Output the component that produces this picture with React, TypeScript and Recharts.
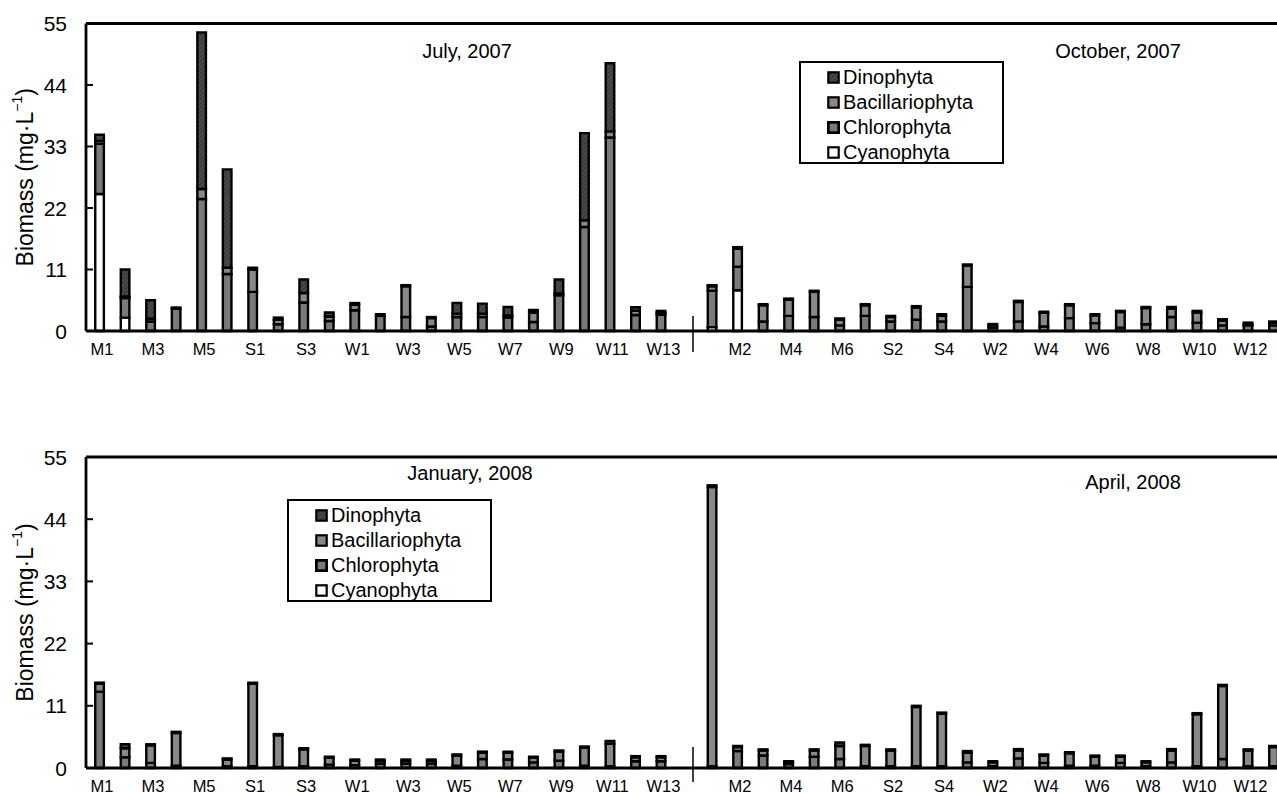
import { Bar, BarChart, Legend, ReferenceLine, XAxis, YAxis } from 'recharts'

const FONT = '"Liberation Sans", Arial, sans-serif'

const stations = ['M1', 'M2', 'M3', 'M4', 'M5', 'M6', 'S1', 'S2', 'S3', 'S4', 'W1', 'W2', 'W3', 'W4', 'W5', 'W6', 'W7', 'W8', 'W9', 'W10', 'W11', 'W12', 'W13']
const yTicks = [0, 11, 22, 33, 44, 55]
const divisions = ['Dinophyta', 'Bacillariophyta', 'Chlorophyta', 'Cyanophyta']

// July, 2007
const julCyano = [24.5, 2.4, 0, 0, 0, 0, 0, 0, 0, 0, 0, 0, 0, 0, 0, 0, 0, 0, 0, 0, 0, 0, 0]
const julChloro = [9.0, 3.5, 1.7, 4.0, 23.6, 10.2, 7.0, 1.2, 5.1, 1.8, 3.7, 2.7, 2.5, 0.8, 2.5, 2.5, 2.4, 1.6, 6.4, 18.6, 34.6, 2.85, 2.9]
const julBacil = [0.5, 0.3, 0.5, 0, 1.8, 1.1, 4.0, 0.8, 1.7, 0.8, 1.0, 0, 5.5, 1.5, 0.6, 0.6, 0.4, 1.7, 0.3, 1.2, 1.1, 0.8, 0.4]
const julDino = [1.1, 4.8, 3.3, 0.2, 28.0, 17.6, 0.3, 0.4, 2.4, 0.7, 0.3, 0.3, 0.2, 0.2, 1.9, 1.8, 1.5, 0.45, 2.5, 15.6, 12.2, 0.6, 0.3]

// October, 2007
const octCyano = [0.7, 7.3, 0, 0, 0, 0, 0, 0, 0, 0, 0, 0, 0, 0, 0, 0, 0, 0, 0, 0, 0, 0, 0]
const octChloro = [6.5, 4.2, 1.7, 2.7, 2.5, 1.0, 2.7, 1.7, 2.0, 1.7, 7.9, 0.6, 1.7, 0.8, 2.3, 1.4, 0.6, 1.2, 2.5, 1.5, 1.0, 1.0, 1.0]
const octBacil = [0.8, 3.2, 2.9, 2.9, 4.5, 1.0, 1.9, 0.8, 2.2, 1.0, 3.8, 0.45, 3.5, 2.45, 2.3, 1.4, 2.8, 2.9, 1.5, 1.8, 0.85, 0.2, 0.5]
const octDino = [0.2, 0.3, 0.2, 0.2, 0.2, 0.25, 0.2, 0.2, 0.25, 0.3, 0.2, 0.2, 0.2, 0.2, 0.2, 0.2, 0.2, 0.2, 0.3, 0.3, 0.25, 0.3, 0.2]

// January, 2008
const janCyano = [0, 0, 0, 0, 0, 0, 0, 0, 0, 0, 0, 0, 0, 0, 0, 0, 0, 0, 0, 0, 0, 0, 0]
const janChloro = [13.5, 1.9, 0.9, 0.4, 0, 0.3, 0.3, 0.2, 0.3, 0.6, 0.5, 0.8, 0.8, 0.8, 0.4, 1.6, 1.5, 1.0, 1.3, 0.4, 0.3, 1.2, 1.2]
const janBacil = [1.4, 1.6, 3.1, 5.8, 0, 1.2, 14.6, 5.6, 3.0, 1.2, 0.8, 0.5, 0.5, 0.5, 1.8, 1.1, 1.2, 0.8, 1.6, 3.2, 4.0, 0.7, 0.7]
const janDino = [0.2, 0.7, 0.2, 0.2, 0, 0.2, 0.2, 0.2, 0.2, 0.2, 0.2, 0.2, 0.2, 0.2, 0.2, 0.2, 0.2, 0.2, 0.2, 0.2, 0.5, 0.2, 0.2]

// April, 2008
const aprCyano = [0, 0, 0, 0, 0, 0, 0, 0, 0, 0, 0, 0, 0, 0, 0, 0, 0, 0, 0, 0, 0, 0, 0]
const aprChloro = [0.3, 3.0, 2.2, 0.7, 2.0, 1.6, 0.3, 0.3, 0.3, 0.3, 1.0, 0.3, 1.7, 0.9, 0.4, 0.4, 0.9, 0.3, 1.0, 0.3, 1.6, 0.3, 0.3]
const aprBacil = [49.4, 0.7, 0.9, 0.3, 1.1, 2.3, 3.6, 2.8, 10.5, 9.3, 1.7, 0.7, 1.4, 1.3, 2.2, 1.6, 1.1, 0.7, 2.1, 9.2, 12.9, 2.8, 3.4]
const aprDino = [0.3, 0.2, 0.2, 0.2, 0.2, 0.6, 0.2, 0.2, 0.2, 0.2, 0.3, 0.2, 0.25, 0.2, 0.2, 0.2, 0.2, 0.2, 0.25, 0.2, 0.2, 0.2, 0.2]

type Row = { label: string; cyano: number; chloro: number; bacil: number; dino: number }

// first period labels the odd stations, second one the even ones, a '|' slot in between
function buildRows(a: number[][], b: number[][]): Row[] {
  const rows: Row[] = stations.map((s, i) => ({
    label: i % 2 === 0 ? s : '',
    cyano: a[0][i],
    chloro: a[1][i],
    bacil: a[2][i],
    dino: a[3][i],
  }))
  rows.push({ label: '|', cyano: 0, chloro: 0, bacil: 0, dino: 0 })
  stations.forEach((s, i) =>
    rows.push({
      label: i % 2 === 1 ? s : '',
      cyano: b[0][i],
      chloro: b[1][i],
      bacil: b[2][i],
      dino: b[3][i],
    }),
  )
  return rows
}

const topRows = buildRows([julCyano, julChloro, julBacil, julDino], [octCyano, octChloro, octBacil, octDino])
const bottomRows = buildRows([janCyano, janChloro, janBacil, janDino], [aprCyano, aprChloro, aprBacil, aprDino])

const CHLORO = '#7a7a7a'
const BACIL = '#888888'
const EDGE = 2.4

function Swatch({ name, hatchId }: { name: string; hatchId: string }) {
  const fill =
    name === 'Dinophyta' ? `url(#${hatchId})` : name === 'Cyanophyta' ? '#fff' : name === 'Chlorophyta' ? CHLORO : BACIL
  const sw = name === 'Chlorophyta' ? 2.8 : 2.2
  return (
    <svg width={13} height={13} style={{ display: 'block', marginRight: 3 }}>
      <rect x={1.3} y={1.3} width={10.4} height={10.4} fill={fill} stroke="#000" strokeWidth={sw} />
    </svg>
  )
}

function LegendBox({ hatchId }: { hatchId: string }) {
  return (
    <div
      style={{
        border: '2px solid #000',
        boxSizing: 'border-box',
        width: 205,
        height: 103,
        padding: '2px 0 0 26px',
        fontFamily: FONT,
        fontSize: 20,
        background: '#fff',
      }}
    >
      {divisions.map((d) => (
        <div key={d} style={{ display: 'flex', alignItems: 'center', height: 25, lineHeight: '25px' }}>
          <Swatch name={d} hatchId={hatchId} />
          <span>{d}</span>
        </div>
      ))}
    </div>
  )
}

function StationTick(props: any) {
  const { x, y, payload, sep } = props
  if (payload.value === '|') {
    return <line x1={x + 6} x2={x + 6} y1={y + sep[0]} y2={y + sep[1]} stroke="#000" strokeWidth={1.5} />
  }
  return (
    <text x={x + 2} y={y + 23.5} textAnchor="middle" fontSize={16.5} fontFamily={FONT} fill="#000">
      {payload.value}
    </text>
  )
}

function ValueTick(props: any) {
  const { x, y, payload } = props
  return (
    <g>
      <text x={x} y={y} dy="0.36em" textAnchor="end" fontSize={21} fontFamily={FONT} fill="#000">
        {payload.value}
      </text>
      {payload.value > 0 && payload.value < 55 && (
        <line x1={x + 19} x2={x + 26} y1={y} y2={y} stroke="#000" strokeWidth={2} />
      )}
    </g>
  )
}

function AxisTitle(props: any) {
  const { viewBox } = props
  const cx = viewBox.x + 25
  const cy = viewBox.y + viewBox.height / 2
  return (
    <text
      x={cx}
      y={cy}
      transform={`rotate(-90 ${cx} ${cy})`}
      textAnchor="middle"
      dominantBaseline="central"
      fontSize={23}
      fontFamily={FONT}
      fill="#000"
    >
      <tspan>Biomass (mg·L</tspan>
      <tspan dy={-8} fontSize={14}>
        −1
      </tspan>
      <tspan dy={8}>)</tspan>
    </text>
  )
}

type PanelProps = {
  rows: Row[]
  top: number
  height: number
  marginTop: number
  hatchId: string
  sep: [number, number]
  legendAt: { left: number; top: number }
  titles: { text: string; x: number; y: number }[]
}

function Panel({ rows, top, height, marginTop, hatchId, sep, legendAt, titles }: PanelProps) {
  return (
    <div style={{ position: 'absolute', left: 0, top, width: 1288, height }}>
      <BarChart
        width={1288}
        height={height}
        data={rows}
        margin={{ top: marginTop, right: 0, bottom: 0, left: 0 }}
        barSize={8.6}
      >
        <defs>
          <pattern id={hatchId} width={3} height={3} patternUnits="userSpaceOnUse" patternTransform="rotate(45)">
            <rect width={3} height={3} fill="#3a3a3a" />
            <line x1={0} y1={0} x2={0} y2={3} stroke="#6e6e6e" strokeWidth={1} />
          </pattern>
        </defs>
        <XAxis
          dataKey="label"
          interval={0}
          tickSize={0}
          tickMargin={0}
          tickLine={false}
          height={39}
          padding={{ left: 1.25, right: 1.25 }}
          axisLine={{ stroke: '#000', strokeWidth: 2.8 }}
          tick={(p: any) => <StationTick {...p} sep={sep} />}
        />
        <YAxis
          width={86}
          domain={[0, 55]}
          ticks={yTicks}
          interval={0}
          tickSize={0}
          tickMargin={19}
          tickLine={false}
          axisLine={{ stroke: '#000', strokeWidth: 2.8 }}
          tick={(p: any) => <ValueTick {...p} />}
          label={{ content: (p: any) => <AxisTitle {...p} /> }}
        />
        <ReferenceLine y={55} stroke="#000" strokeWidth={3} ifOverflow="visible" />
        <Bar dataKey="cyano" name="Cyanophyta" stackId="a" fill="#fff" stroke="#000" strokeWidth={EDGE} isAnimationActive={false} />
        <Bar dataKey="chloro" name="Chlorophyta" stackId="a" fill={CHLORO} stroke="#000" strokeWidth={EDGE} isAnimationActive={false} />
        <Bar dataKey="bacil" name="Bacillariophyta" stackId="a" fill={BACIL} stroke="#000" strokeWidth={EDGE} isAnimationActive={false} />
        <Bar dataKey="dino" name="Dinophyta" stackId="a" fill={`url(#${hatchId})`} stroke="#000" strokeWidth={EDGE} isAnimationActive={false} />
        <Legend
          layout="horizontal"
          verticalAlign="middle"
          align="center"
          content={() => <LegendBox hatchId={hatchId} />}
          wrapperStyle={{ left: legendAt.left, top: legendAt.top, width: 205, height: 103 }}
        />
      </BarChart>
      {titles.map((t) => (
        <div
          key={t.text}
          style={{
            position: 'absolute',
            left: t.x,
            top: t.y,
            transform: 'translate(-50%, -50%)',
            fontFamily: FONT,
            fontSize: 20,
            whiteSpace: 'nowrap',
            color: '#000',
          }}
        >
          {t.text}
        </div>
      ))}
    </div>
  )
}

export default function App() {
  return (
    <div
      style={{
        position: 'fixed',
        left: 0,
        top: 0,
        width: 1277,
        height: 793,
        overflow: 'hidden',
        background: '#fff',
      }}
    >
      <Panel
        rows={topRows}
        top={0}
        height={370}
        marginTop={23.5}
        hatchId="dinoHatchTop"
        sep={[-15, 21]}
        legendAt={{ left: 799, top: 61 }}
        titles={[
          { text: 'July, 2007', x: 467, y: 51 },
          { text: 'October, 2007', x: 1118, y: 51 },
        ]}
      />
      <Panel
        rows={bottomRows}
        top={434}
        height={373}
        marginTop={23}
        hatchId="dinoHatchBottom"
        sep={[-21, 14]}
        legendAt={{ left: 287, top: 65 }}
        titles={[
          { text: 'January, 2008', x: 470, y: 39 },
          { text: 'April, 2008', x: 1133, y: 48 },
        ]}
      />
    </div>
  )
}
